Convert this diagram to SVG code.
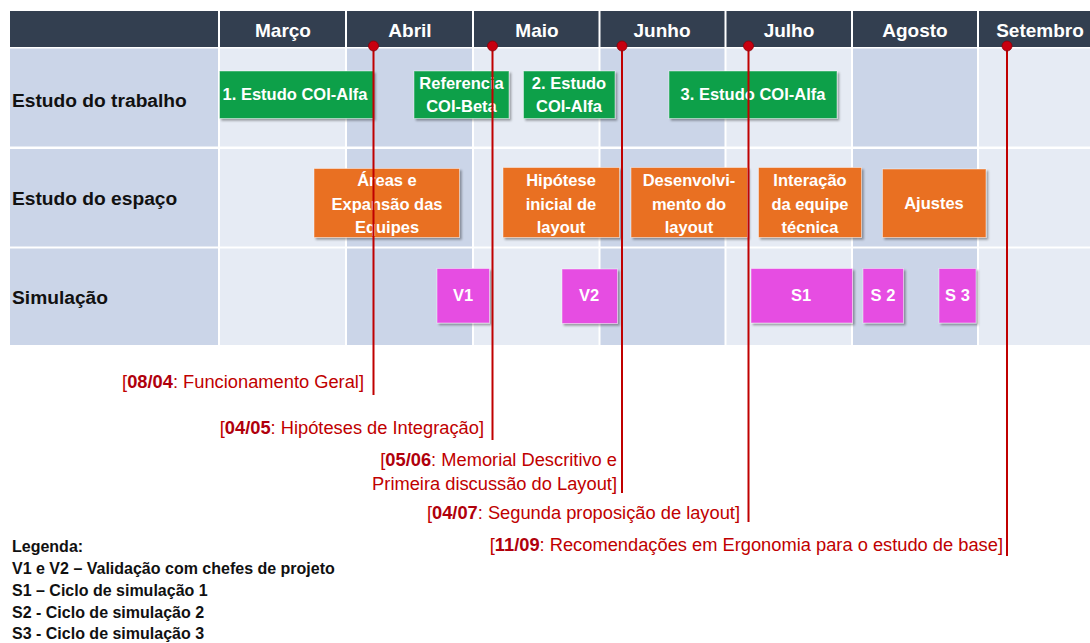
<svg xmlns="http://www.w3.org/2000/svg" width="1090" height="643" viewBox="0 0 1090 643">
<style>
.hdr{fill:#333f50}
.dk{fill:#cbd5e8}
.lt{fill:#e6ebf4}
.ht{font-family:"Liberation Sans",Arial,sans-serif;font-weight:bold;font-size:19px;fill:#fff;text-anchor:middle}
.rl{font-family:"Liberation Sans",Arial,sans-serif;font-weight:bold;font-size:19.2px;fill:#111}
.bx{stroke:#ffffff;stroke-opacity:0.45;stroke-width:1;filter:url(#sh)}
.g{fill:#0ca04a}
.o{fill:#e97024}
.m{fill:#e64ee2}
.bt{font-family:"Liberation Sans",Arial,sans-serif;font-weight:bold;font-size:16.5px;fill:#fff;text-anchor:middle}
.ln{stroke:#c00000;stroke-width:2;fill:none}
.dot{fill:#c8000f;stroke:#8a0008;stroke-width:0.8}
.rt{font-family:"Liberation Sans",Arial,sans-serif;font-size:18.3px;fill:#c00000;text-anchor:end}
.rt tspan.b{font-weight:bold;fill:#b0000c}
.lg{font-family:"Liberation Sans",Arial,sans-serif;font-weight:bold;font-size:16px;fill:#111}
</style>
<defs>
<filter id="sh" x="-10%" y="-10%" width="130%" height="140%">
<feDropShadow dx="2" dy="2" stdDeviation="1.3" flood-color="#000" flood-opacity="0.35"/>
</filter>
</defs>
<rect width="1090" height="643" fill="#fff"/>

<g id="table">
<rect class="hdr" x="10" y="11" width="208" height="36"/>
<rect class="hdr" x="220" y="11" width="125" height="36"/>
<rect class="hdr" x="347" y="11" width="125" height="36"/>
<rect class="hdr" x="474" y="11" width="124.5" height="36"/>
<rect class="hdr" x="600.5" y="11" width="124" height="36"/>
<rect class="hdr" x="726.5" y="11" width="124.5" height="36"/>
<rect class="hdr" x="853" y="11" width="124" height="36"/>
<rect class="hdr" x="979" y="11" width="111" height="36"/>
<text class="ht" x="283" y="37">Março</text>
<text class="ht" x="410" y="37">Abril</text>
<text class="ht" x="537" y="37">Maio</text>
<text class="ht" x="662" y="37">Junho</text>
<text class="ht" x="789" y="37">Julho</text>
<text class="ht" x="915" y="37">Agosto</text>
<text class="ht" x="1040" y="37">Setembro</text>
<g id="row1">
<rect class="dk" x="10" y="48.5" width="208" height="98"/>
<rect class="lt" x="220" y="48.5" width="125" height="98"/>
<rect class="dk" x="347" y="48.5" width="125" height="98"/>
<rect class="lt" x="474" y="48.5" width="124.5" height="98"/>
<rect class="dk" x="600.5" y="48.5" width="124" height="98"/>
<rect class="lt" x="726.5" y="48.5" width="124.5" height="98"/>
<rect class="dk" x="853" y="48.5" width="124" height="98"/>
<rect class="lt" x="979" y="48.5" width="111" height="98"/>
<text class="rl" x="12" y="107">Estudo do trabalho</text>
</g>
<g id="row2">
<rect class="dk" x="10" y="149" width="208" height="97.5"/>
<rect class="lt" x="220" y="149" width="125" height="97.5"/>
<rect class="dk" x="347" y="149" width="125" height="97.5"/>
<rect class="lt" x="474" y="149" width="124.5" height="97.5"/>
<rect class="dk" x="600.5" y="149" width="124" height="97.5"/>
<rect class="lt" x="726.5" y="149" width="124.5" height="97.5"/>
<rect class="dk" x="853" y="149" width="124" height="97.5"/>
<rect class="lt" x="979" y="149" width="111" height="97.5"/>
<text class="rl" x="12" y="205">Estudo do espaço</text>
</g>
<g id="row3">
<rect class="dk" x="10" y="248.5" width="208" height="96.5"/>
<rect class="lt" x="220" y="248.5" width="125" height="96.5"/>
<rect class="dk" x="347" y="248.5" width="125" height="96.5"/>
<rect class="lt" x="474" y="248.5" width="124.5" height="96.5"/>
<rect class="dk" x="600.5" y="248.5" width="124" height="96.5"/>
<rect class="lt" x="726.5" y="248.5" width="124.5" height="96.5"/>
<rect class="dk" x="853" y="248.5" width="124" height="96.5"/>
<rect class="lt" x="979" y="248.5" width="111" height="96.5"/>
<text class="rl" x="12" y="304">Simulação</text>
</g>
</g>

<g id="t1"><rect class="bx g" x="219.5" y="71" width="154" height="47.5"/><text class="bt" x="295" y="100">1. Estudo COI-Alfa</text></g>
<g id="t2"><rect class="bx g" x="414" y="71" width="95" height="47.5"/><text class="bt" x="461.5" y="89">Referencia</text><text class="bt" x="461.5" y="112">COI-Beta</text></g>
<g id="t3"><rect class="bx g" x="523.5" y="71" width="91.5" height="47.5"/><text class="bt" x="569" y="89">2. Estudo</text><text class="bt" x="569" y="112">COI-Alfa</text></g>
<g id="t4"><rect class="bx g" x="669" y="71" width="168" height="47.5"/><text class="bt" x="753" y="100">3. Estudo COI-Alfa</text></g>

<g id="e1"><rect class="bx o" x="314" y="168.5" width="145.5" height="69"/><text class="bt" x="387" y="186">Áreas e</text><text class="bt" x="387" y="209.5">Expansão das</text><text class="bt" x="387" y="233">Equipes</text></g>
<g id="e2"><rect class="bx o" x="503" y="167.5" width="116.5" height="70"/><text class="bt" x="561" y="186">Hipótese</text><text class="bt" x="561" y="209.5">inicial de</text><text class="bt" x="561" y="233">layout</text></g>
<g id="e3"><rect class="bx o" x="631" y="167.5" width="116.5" height="70"/><text class="bt" x="689" y="186">Desenvolvi-</text><text class="bt" x="689" y="209.5">mento do</text><text class="bt" x="689" y="233">layout</text></g>
<g id="e4"><rect class="bx o" x="758.5" y="167.5" width="103" height="70"/><text class="bt" x="810" y="186">Interação</text><text class="bt" x="810" y="209.5">da equipe</text><text class="bt" x="810" y="233">técnica</text></g>
<g id="e5"><rect class="bx o" x="882.5" y="169" width="103.5" height="68.5"/><text class="bt" x="934" y="209">Ajustes</text></g>

<g id="v1"><rect class="bx m" x="437" y="268.5" width="52.5" height="54.5"/><text class="bt" x="463" y="301">V1</text></g>
<g id="v2"><rect class="bx m" x="562" y="269" width="55.5" height="54.5"/><text class="bt" x="589" y="301">V2</text></g>
<g id="s1"><rect class="bx m" x="751" y="268.5" width="101.5" height="54.5"/><text class="bt" x="801" y="301">S1</text></g>
<g id="s2"><rect class="bx m" x="863" y="268.5" width="40.5" height="54.5"/><text class="bt" x="883" y="301">S 2</text></g>
<g id="s3"><rect class="bx m" x="939" y="268.5" width="37" height="54.5"/><text class="bt" x="957.5" y="301">S 3</text></g>

<g id="connectors">
<line class="ln" x1="373.5" y1="46" x2="373.5" y2="395"/>
<line class="ln" x1="492.5" y1="46" x2="492.5" y2="440"/>
<line class="ln" x1="622" y1="46" x2="622" y2="493"/>
<line class="ln" x1="748.5" y1="46" x2="748.5" y2="522"/>
<line class="ln" x1="1007" y1="46" x2="1007" y2="556"/>
<circle class="dot" cx="373.5" cy="46" r="5"/>
<circle class="dot" cx="492.5" cy="46" r="5"/>
<circle class="dot" cx="622" cy="46" r="5"/>
<circle class="dot" cx="748.5" cy="46" r="5"/>
<circle class="dot" cx="1007" cy="46" r="5"/>
</g>

<g id="m1"><text class="rt" x="364" y="388">[<tspan class="b">08/04</tspan>: Funcionamento Geral]</text></g>
<g id="m2"><text class="rt" x="484" y="434">[<tspan class="b">04/05</tspan>: Hipóteses de Integração]</text></g>
<g id="m3"><text class="rt" x="617" y="466">[<tspan class="b">05/06</tspan>: Memorial Descritivo e</text><text class="rt" x="617" y="490">Primeira discussão do Layout]</text></g>
<g id="m4"><text class="rt" x="740" y="519">[<tspan class="b">04/07</tspan>: Segunda proposição de layout]</text></g>
<g id="m5"><text class="rt" x="1003" y="551">[<tspan class="b">11/09</tspan>: Recomendações em Ergonomia para o estudo de base]</text></g>

<g id="legend">
<text class="lg" x="12" y="552">Legenda:</text>
<text class="lg" x="12" y="574">V1 e V2 – Validação com chefes de projeto</text>
<text class="lg" x="12" y="596">S1 – Ciclo de simulação 1</text>
<text class="lg" x="12" y="618">S2 - Ciclo de simulação 2</text>
<text class="lg" x="12" y="639">S3 - Ciclo de simulação 3</text>
</g>
</svg>
